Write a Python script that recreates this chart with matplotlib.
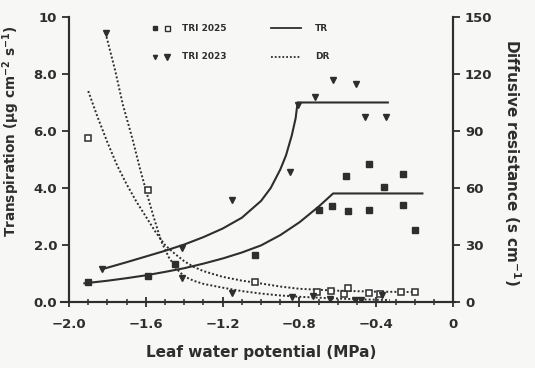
import matplotlib.pyplot as plt
from matplotlib.ticker import MultipleLocator, FixedLocator

INK = '#2e2e2e'
plt.rcParams['font.family'] = ['DejaVu Sans']
plt.rcParams['font.weight'] = 'bold'

# Transpiration (left axis), filled markers
tr25_x = [-1.90, -1.59, -1.45, -1.03, -0.70, -0.63, -0.56, -0.55, -0.44, -0.44, -0.36, -0.26, -0.26, -0.20]
tr25_y = [0.70, 0.91, 1.33, 1.64, 3.22, 3.36, 4.41, 3.18, 4.86, 3.22, 4.02, 4.48, 3.39, 2.52]
tr23_x = [-1.83, -1.41, -1.15, -0.85, -0.81, -0.72, -0.625, -0.505, -0.46, -0.35]
tr23_y = [1.15, 1.89, 3.57, 4.55, 6.92, 7.20, 7.80, 7.66, 6.50, 6.50]

# Diffusive resistance (right axis)
dr25_x = [-1.90, -1.59, -1.03, -0.71, -0.635, -0.57, -0.55, -0.44, -0.38, -0.27, -0.20]
dr25_y = [86.3, 59.0, 10.5, 5.3, 5.8, 4.2, 7.4, 4.7, 4.2, 5.3, 5.3]
dr23_x = [-1.81, -1.41, -1.15, -0.84, -0.73, -0.64, -0.51, -0.48, -0.37]
dr23_y = [141.6, 12.6, 4.7, 2.6, 3.2, 1.6, 1.1, 1.1, 3.7]

# fitted curves
tr25_fit_x = [-1.92, -1.8, -1.7, -1.6, -1.5, -1.4, -1.3, -1.2, -1.1, -1.0, -0.9, -0.8, -0.7, -0.625, -0.16]
tr25_fit_y = [0.66, 0.75, 0.84, 0.94, 1.06, 1.19, 1.35, 1.53, 1.74, 1.99, 2.35, 2.80, 3.35, 3.81, 3.81]
tr23_fit_x = [-1.83, -1.7, -1.6, -1.5, -1.4, -1.3, -1.2, -1.1, -1.0, -0.95, -0.90, -0.87, -0.84, -0.82, -0.81, -0.34]
tr23_fit_y = [1.15, 1.40, 1.60, 1.80, 2.02, 2.28, 2.58, 2.96, 3.55, 4.00, 4.65, 5.15, 5.85, 6.45, 7.00, 7.00]
dr25_fit_x = [-1.90, -1.85, -1.80, -1.75, -1.70, -1.65, -1.60, -1.55, -1.50, -1.45, -1.40, -1.35,
              -1.30, -1.2, -1.1, -1.0, -0.9, -0.8, -0.6, -0.4, -0.21]
dr25_fit_y = [111, 97, 84, 72, 62, 53, 45, 37, 30, 25.5, 21.5, 18.5,
              16.3, 13.3, 11.3, 9.8, 8.2, 7.0, 6.0, 5.5, 5.3]
dr23_fit_x = [-1.81, -1.76, -1.72, -1.67, -1.63, -1.60, -1.56, -1.52, -1.48, -1.44, -1.40, -1.35,
              -1.30, -1.2, -1.1, -1.0, -0.9, -0.8, -0.65, -0.5, -0.33]
dr23_fit_y = [141.6, 122, 104, 86, 70, 59, 45, 32, 23.5, 17.5, 13.5, 11.2,
              9.6, 7.6, 5.8, 4.5, 3.5, 2.8, 2.1, 1.5, 1.1]

fig = plt.figure(figsize=(5.35, 3.68), dpi=100)
fig.patch.set_facecolor('#f7f7f5')
ax = fig.add_axes([0.129, 0.179, 0.718, 0.775])
ax.set_facecolor('none')
ax2 = ax.twinx()

dots = (0, (1, 1.1))
ax.plot(tr25_fit_x, tr25_fit_y, color=INK, lw=1.5)
ax.plot(tr23_fit_x, tr23_fit_y, color=INK, lw=1.5)
ax.plot(tr25_x, tr25_y, 's', color=INK, ms=4.2, ls='none')
ax.plot(tr23_x, tr23_y, 'v', color=INK, ms=4.2, ls='none')

ax2.plot(dr25_fit_x, dr25_fit_y, color=INK, lw=1.4, ls=dots)
ax2.plot(dr23_fit_x, dr23_fit_y, color=INK, lw=1.4, ls=dots)
ax2.plot(dr25_x, dr25_y, 's', mfc='white', mec=INK, mew=1.1, ms=4.0, ls='none')
ax2.plot(dr23_x, dr23_y, 'v', color=INK, ms=4.2, ls='none')

ax.set_xlim(-2.0, 0)
ax.set_ylim(0, 10)
ax2.set_ylim(0, 150)

for a in (ax, ax2):
    a.spines['top'].set_visible(False)
    for s in a.spines.values():
        s.set_color(INK)
        s.set_linewidth(1.5)
ax.spines['bottom'].set_bounds(-2.04, 0.01)

ax.xaxis.set_major_locator(FixedLocator([-2.0, -1.6, -1.2, -0.8, -0.4, 0]))
ax.xaxis.set_minor_locator(MultipleLocator(0.1))
ax.set_xticklabels(['\u22122.0', '\u22121.6', '\u22121.2', '\u22120.8', '\u22120.4', '0'])
ax.set_yticks([0, 2, 4, 6, 8, 10])
ax.set_yticklabels(['0.0', '2.0', '4.0', '6.0', '8.0', '10'])
ax2.set_yticks([0, 30, 60, 90, 120, 150])

ax.tick_params(axis='x', which='major', direction='inout', length=7, width=1.3, colors=INK, labelsize=9.5, pad=8)
ax.tick_params(axis='x', which='minor', direction='inout', length=4, width=1.1, colors=INK)
ax.tick_params(axis='y', direction='out', length=5, width=1.3, colors=INK, labelsize=9.5)
ax2.tick_params(axis='y', direction='out', length=5, width=1.3, colors=INK, labelsize=9.5)
for lab in ax.get_xticklabels() + ax.get_yticklabels() + ax2.get_yticklabels():
    lab.set_fontweight('bold')

ax.set_xlabel('Leaf water potential (MPa)', fontsize=11, fontweight='bold', color=INK)
ax.xaxis.set_label_coords(0.5, -0.15)
ax.set_ylabel('Transpiration (\u03bcg cm$^{-2}$ s$^{-1}$)', fontsize=9.8, fontweight='bold', color=INK)
ax.yaxis.set_label_coords(-0.122, 0.60)
ax2.set_ylabel('Diffusive resistance (s cm$^{-1}$)', fontsize=11, fontweight='bold', color=INK, rotation=270)
ax2.yaxis.set_label_coords(1.18, 0.49)

# key drawn in axes fraction
tA = ax.transAxes
ax.plot([0.225], [0.96], 's', color=INK, ms=3.2, transform=tA, clip_on=False)
ax.plot([0.255], [0.96], 's', mfc='white', mec=INK, mew=1.0, ms=3.6, transform=tA, clip_on=False)
ax.plot([0.225], [0.86], 'v', color=INK, ms=3.0, transform=tA, clip_on=False)
ax.plot([0.255], [0.86], 'v', color=INK, ms=4.0, transform=tA, clip_on=False)
ax.text(0.295, 0.96, 'TRI 2025', transform=tA, fontsize=6.5, fontweight='bold', color=INK, va='center')
ax.text(0.295, 0.86, 'TRI 2023', transform=tA, fontsize=6.5, fontweight='bold', color=INK, va='center')
ax.plot([0.525, 0.605], [0.96, 0.96], color=INK, lw=1.3, transform=tA)
ax.plot([0.525, 0.605], [0.86, 0.86], color=INK, lw=1.3, ls=dots, transform=tA)
ax.text(0.64, 0.96, 'TR', transform=tA, fontsize=6.5, fontweight='bold', color=INK, va='center')
ax.text(0.64, 0.86, 'DR', transform=tA, fontsize=6.5, fontweight='bold', color=INK, va='center')

fig.savefig('out.png', dpi=100, facecolor=fig.get_facecolor())
